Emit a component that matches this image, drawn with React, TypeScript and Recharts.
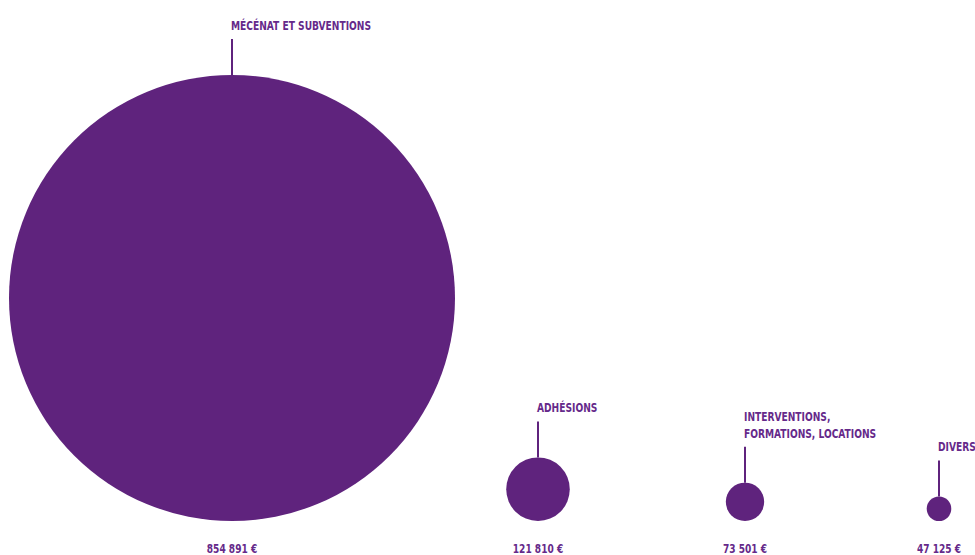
import { ScatterChart, Scatter, XAxis, YAxis, ZAxis } from 'recharts'

const labels = ['MÉCÉNAT ET SUBVENTIONS', 'ADHÉSIONS', 'INTERVENTIONS,|FORMATIONS, LOCATIONS', 'DIVERS']
const amounts = [854891, 121810, 73501, 47125]
// column positions along the hidden x axis (layout, not values)
const columns = [232, 538, 745, 939]

const PURPLE = '#5F237D'
const TEXT = '#65298A'
const FONT = '"DejaVu Sans", sans-serif'

const data = labels.map((label, i) => ({ label, amount: amounts[i], col: columns[i] }))

const fmt = (v: number) => String(v).replace(/\B(?=(\d{3})+(?!\d))/g, ' ') + ' €'

// radius taken straight from the z scale (range is in px of radius)
const Bubble = (props: any) => {
  const { cx, cy, size, payload } = props
  const r = size
  const top = cy - 2 * r
  const lineLen = 36
  const lines: string[] = payload.label.split('|')
  const lastBase = top - lineLen - 9
  return (
    <g>
      <circle cx={cx} cy={cy - r} r={r} fill={PURPLE} />
      <line x1={cx} x2={cx} y1={top} y2={top - lineLen} stroke={PURPLE} strokeWidth={2} />
      {lines.map((t, i) => (
        <text
          key={i}
          transform={`translate(${cx - 1},${lastBase - (lines.length - 1 - i) * 17}) scale(0.78,1)`}
          fill={TEXT}
          fontFamily={FONT}
          fontWeight='bold'
          fontSize={13}
          style={{ fontStretch: 'condensed' }}>
          {t}
        </text>
      ))}
      <text
        transform={`translate(${cx},${cy + 32}) scale(0.84,1)`}
        fill={TEXT}
        fontFamily={FONT}
        fontWeight='bold'
        fontSize={12}
        textAnchor='middle'
        style={{ fontStretch: 'condensed' }}>
        {fmt(payload.amount)}
      </text>
    </g>
  )
}

export default function App() {
  return (
    <div style={{ position: 'absolute', left: 0, top: 0, background: '#fff' }}>
      <ScatterChart width={975} height={555} margin={{ top: 0, right: 0, bottom: 34, left: 0 }}>
        <XAxis type='number' dataKey='col' domain={[0, 975]} hide />
        <YAxis type='number' dataKey={() => 0} domain={[0, 1]} hide />
        <ZAxis type='number' dataKey='amount' domain={[0, 'dataMax']} range={[0, 223]} />
        <Scatter data={data} shape={<Bubble />} isAnimationActive={false} />
      </ScatterChart>
    </div>
  )
}
